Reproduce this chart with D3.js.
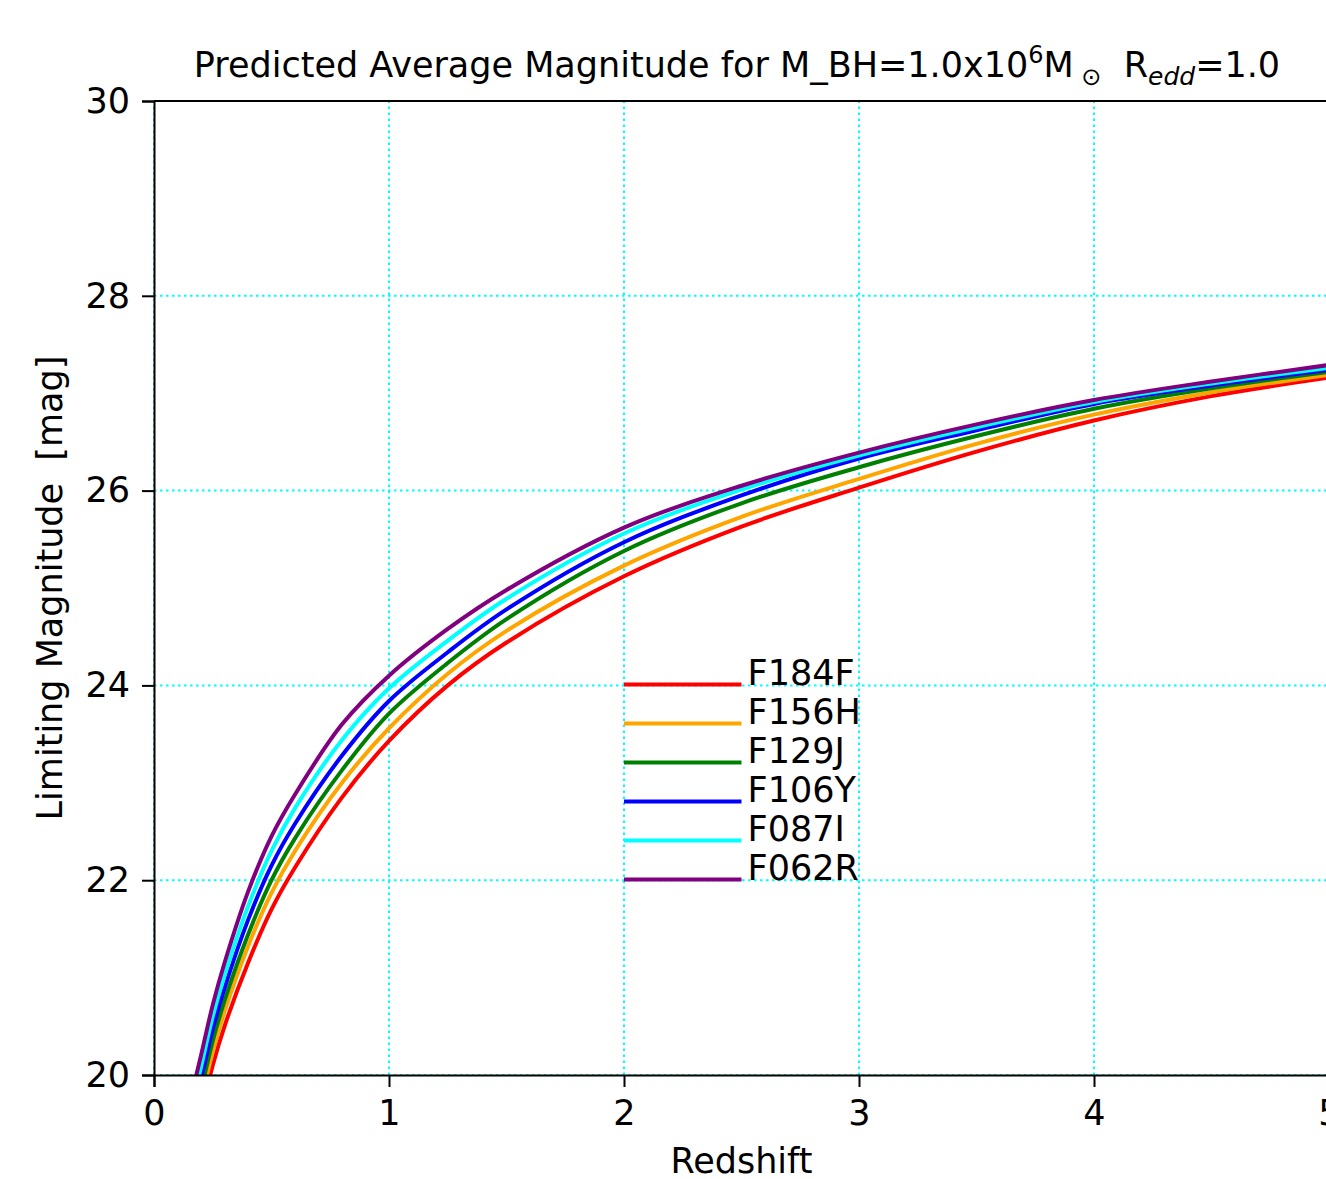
<!DOCTYPE html>
<html>
<head>
<meta charset="utf-8">
<script src="https://cdn.jsdelivr.net/npm/d3@7"></script>
<style>
  body { margin: 0; background: #fff; }
  text { font-family: "DejaVu Sans", sans-serif; fill: #000; }
</style>
</head>
<body>
<svg id="chart" width="1326" height="1179"></svg>
<script>
// redshift grid shared by all filters
const redshift = [0.15, 0.2, 0.25, 0.3, 0.4, 0.5, 0.6, 0.8, 1.0, 1.25, 1.5, 2.0, 2.5, 3.0, 3.5, 4.0, 4.5, 5.0];

// limiting magnitude per filter
const magF184F = [19.1, 19.6, 20.1, 20.5, 21.15, 21.7, 22.13, 22.85, 23.43, 24.0, 24.44, 25.12, 25.63, 26.03, 26.4, 26.72, 26.97, 27.16];
const magF156H = [19.24, 19.74, 20.24, 20.65, 21.32, 21.87, 22.3, 23.0, 23.56, 24.12, 24.56, 25.23, 25.73, 26.12, 26.48, 26.78, 27.01, 27.19];
const magF129J = [19.34, 19.84, 20.35, 20.76, 21.44, 22.0, 22.43, 23.13, 23.71, 24.23, 24.68, 25.38, 25.87, 26.24, 26.56, 26.84, 27.05, 27.22];
const magF106Y = [19.46, 19.96, 20.47, 20.89, 21.59, 22.15, 22.58, 23.28, 23.84, 24.34, 24.78, 25.47, 25.95, 26.33, 26.62, 26.89, 27.08, 27.24];
const magF087I = [19.58, 20.08, 20.6, 21.02, 21.73, 22.3, 22.74, 23.44, 23.97, 24.46, 24.89, 25.56, 26.01, 26.36, 26.65, 26.91, 27.1, 27.26];
const magF062R = [19.7, 20.2, 20.72, 21.15, 21.88, 22.45, 22.88, 23.6, 24.1, 24.58, 24.98, 25.62, 26.05, 26.39, 26.68, 26.93, 27.12, 27.29];

const filterNames = ['F184F', 'F156H', 'F129J', 'F106Y', 'F087I', 'F062R'];
const filterColors = ['red', 'orange', 'green', 'blue', 'cyan', 'purple'];
const series = [magF184F, magF156H, magF129J, magF106Y, magF087I, magF062R];

const xTicks = [0, 1, 2, 3, 4, 5];
const yTicks = [20, 22, 24, 26, 28, 30];

const margin = { top: 101, left: 154, bottom: 104, right: 0 };
const width = 1329, height = 1179;
const fs = '35px';

const svg = d3.select('#chart');

const x = d3.scaleLinear().domain([0, 5]).range([margin.left, width - margin.right]);
const y = d3.scaleLinear().domain([20, 30]).range([height - margin.bottom, margin.top]);

// clip for curves
svg.append('clipPath').attr('id', 'plotClip')
    .append('rect')
    .attr('x', x(0)).attr('y', y(30))
    .attr('width', x(5) - x(0)).attr('height', y(20) - y(30));

// grid
const grid = svg.append('g').attr('stroke', 'cyan').attr('stroke-width', 2).attr('stroke-dasharray', '2.5,3.5');
xTicks.forEach(t => {
    grid.append('line').attr('x1', x(t)).attr('x2', x(t)).attr('y1', y(20)).attr('y2', y(30));
});
yTicks.forEach(t => {
    grid.append('line').attr('x1', x(0)).attr('x2', x(5)).attr('y1', y(t)).attr('y2', y(t));
});

// curves
const line = d3.line()
    .x((_, i) => x(redshift[i]))
    .y(d => y(d))
    .curve(d3.curveCatmullRom.alpha(0.5));

const curves = svg.append('g').attr('clip-path', 'url(#plotClip)');
series.forEach((vals, i) => {
    curves.append('path')
        .datum(vals)
        .attr('fill', 'none')
        .attr('stroke', filterColors[i])
        .attr('stroke-width', 4)
        .attr('d', line);
});

// axes
const xAxis = svg.append('g')
    .attr('transform', `translate(0,${y(20)})`)
    .call(d3.axisBottom(x).tickValues(xTicks).tickFormat(d3.format('d')).tickSize(12).tickPadding(13));
const yAxis = svg.append('g')
    .attr('transform', `translate(${x(0)},0)`)
    .call(d3.axisLeft(y).tickValues(yTicks).tickFormat(d3.format('d')).tickSize(12).tickPadding(12));

[xAxis, yAxis].forEach(g => {
    g.select('.domain').attr('stroke', '#000').attr('stroke-width', 2);
    g.selectAll('.tick line').attr('stroke', '#000').attr('stroke-width', 2);
    g.selectAll('.tick text').style('font-size', fs).attr('fill', '#000');
});

// top spine
svg.append('line')
    .attr('x1', x(0)).attr('x2', x(5)).attr('y1', y(30)).attr('y2', y(30))
    .attr('stroke', '#000').attr('stroke-width', 2);

// axis labels
svg.append('text')
    .attr('x', (x(0) + x(5)) / 2).attr('y', 1173)
    .attr('text-anchor', 'middle').style('font-size', fs)
    .text('Redshift');

svg.append('text')
    .attr('transform', `translate(62,${(y(20) + y(30)) / 2}) rotate(-90)`)
    .attr('text-anchor', 'middle').style('font-size', fs)
    .attr('xml:space', 'preserve')
    .text('Limiting Magnitude  [mag]');

// title with mathtext pieces
const title = svg.append('text')
    .attr('x', 737).attr('y', 77)
    .attr('text-anchor', 'middle').style('font-size', fs)
    .attr('xml:space', 'preserve');
title.append('tspan').text('Predicted Average Magnitude for M_BH=1.0x10');
title.append('tspan').attr('dy', -14).style('font-size', '24px').text('6');
title.append('tspan').attr('dy', 14).text('M');
title.append('tspan').attr('dy', 8).style('font-size', '24px').text(' \u2299');
title.append('tspan').attr('dy', -8).text('  R');
title.append('tspan').attr('dy', 8).style('font-size', '25px').style('font-style', 'italic').text('edd');
title.append('tspan').attr('dy', -8).text('=1.0');

// legend (no frame), anchored in data space
const legend = svg.append('g');
filterNames.forEach((name, i) => {
    const ly = y(24) - 1 + i * 39;
    legend.append('line')
        .attr('x1', x(2)).attr('x2', x(2.5)).attr('y1', ly).attr('y2', ly)
        .attr('stroke', filterColors[i]).attr('stroke-width', 4);
    legend.append('text')
        .attr('x', x(2.5) + 6).attr('y', ly + 1)
        .style('font-size', fs)
        .text(name);
});
</script>
</body>
</html>
